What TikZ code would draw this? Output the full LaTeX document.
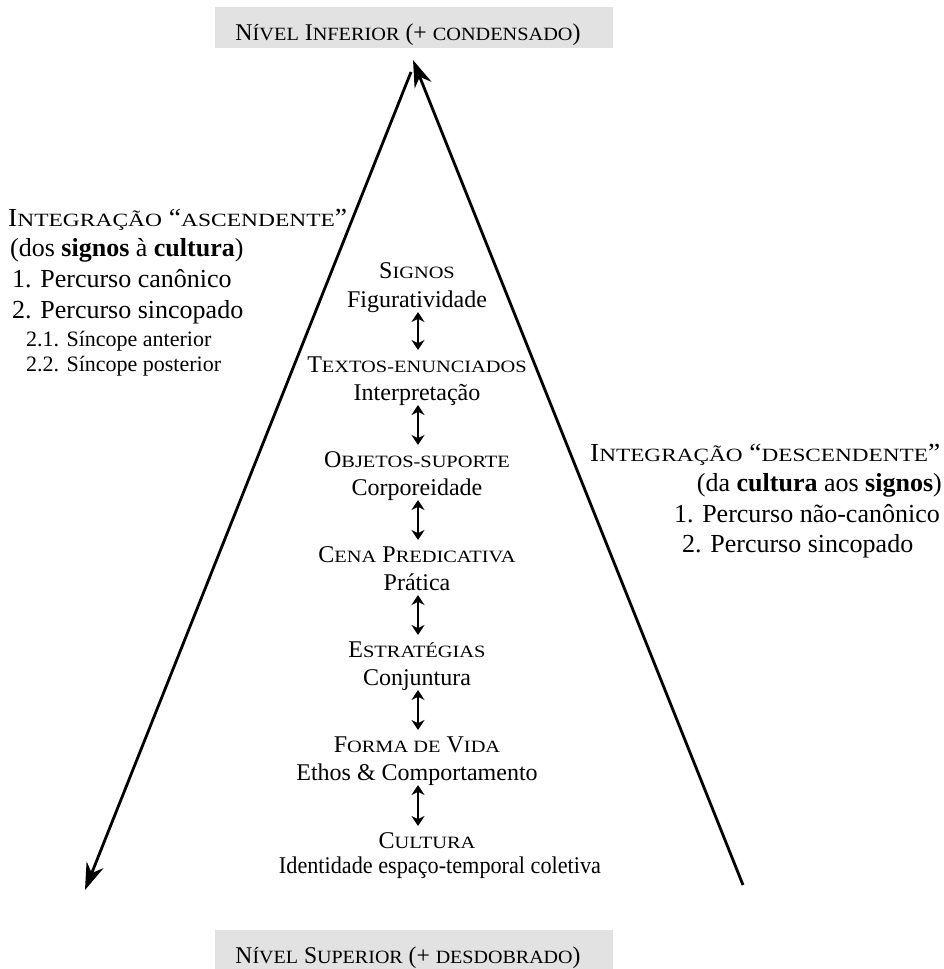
\documentclass[tikz,border=0pt]{standalone}
\usepackage{fontspec}
\usepackage{graphicx}
\setmainfont{Liberation Serif}
\usetikzlibrary{arrows.meta,calc}
\definecolor{bandgray}{HTML}{E2E2E2}

% small capitals built from scaled capitals
\newcommand\lowsc[2][0.72]{\scalebox{0.85}[#1]{#2}}
% squeeze or widen a heading to a given width
\newcommand\fitw[2]{\resizebox{#1}{\height}{#2}}

\begin{document}
\begin{tikzpicture}[x=1pt,y=-1pt,
  head/.style={anchor=base, inner sep=0pt, font=\fontsize{24}{28}\selectfont},
  desc/.style={anchor=base, inner sep=0pt, font=\fontsize{24}{28}\selectfont},
  side/.style={inner sep=0pt, font=\fontsize{26}{30}\selectfont},
  subitem/.style={inner sep=0pt, font=\fontsize{22}{26}\selectfont},
  levelarrow/.style={{Stealth[length=10pt,width=13pt]}-{Stealth[length=10pt,width=13pt]}, line width=2.4pt},
  bigarrow/.style={-{Stealth[length=27pt,width=18pt]}, line width=2.8pt},
  band/.style={fill=bandgray, minimum width=398pt, minimum height=41pt, inner sep=0pt},
  bandtext/.style={anchor=base, inner sep=0pt, font=\fontsize{24}{28}\selectfont}
]
\useasboundingbox (0,0) rectangle (944,969);

% grey level bands
\node[band] (topband) at (414,27.5) {};
\node[bandtext] (toptext) at (408,40)
  {\fitw{345pt}{N\lowsc[0.78]{ÍVEL} I\lowsc[0.78]{NFERIOR} (+ \lowsc[0.78]{CONDENSADO})}};
\node[band, minimum height=40pt] (botband) at (414,950) {};
\node[bandtext] (bottext) at (408,963)
  {\fitw{345pt}{N\lowsc[0.78]{ÍVEL} S\lowsc[0.78]{UPERIOR} (+ \lowsc[0.78]{DESDOBRADO})}};

% the two long sides of the triangle
\coordinate (Ltop) at (411,72);
\coordinate (Lend) at (85,890);
\coordinate (Rbot) at (743,885);
\coordinate (Rtip) at (413,60);
\draw[bigarrow] (Ltop) -- (Lend);
\draw[bigarrow] (Rbot) -- (Rtip);

% levels of pertinence
\coordinate (axis) at (418,0);
\node[head] (h1) at (417,278) {S\lowsc{IGNOS}};
\node[desc] (d1) at (417,307) {Figuratividade};
\node[head] (h2) at (417,372) {T\lowsc{EXTOS-ENUNCIADOS}};
\node[desc] (d2) at (417,400) {Interpretação};
\node[head] (h3) at (417,467) {O\lowsc{BJETOS-SUPORTE}};
\node[desc] (d3) at (417,495) {Corporeidade};
\node[head] (h4) at (417,562) {C\lowsc{ENA} P\lowsc{REDICATIVA}};
\node[desc] (d4) at (417,590) {Prática};
\node[head] (h5) at (417,657) {E\lowsc{STRATÉGIAS}};
\node[desc] (d5) at (417,685) {Conjuntura};
\node[head] (h6) at (417,752) {F\lowsc{ORMA DE} V\lowsc{IDA}};
\node[desc] (d6) at (417,780) {Ethos \& Comportamento};
\node[head] (h7) at (427,848) {C\lowsc{ULTURA}};
\node[desc] (d7) at (440,873) {\fitw{322pt}{Identidade espaço-temporal coletiva}};

\foreach \a/\b in {1/2,2/3,3/4,4/5,5/6,6/7}
  \draw[levelarrow] ($(d\a.base -| axis)+(0,5)$) -- ($(h\b.base -| axis)+(0,-22)$);

% ascending integration
\node[side, anchor=base west] (asc) at (8,226)
  {\fitw{339pt}{I\lowsc{NTEGRAÇÃO} “\lowsc{ASCENDENTE}”}};
\node[side, anchor=base west] (ascA) at (10,256) {(dos \textbf{signos} à \textbf{cultura})};
\node[side, anchor=base west] (asc1) at (12,287) {1. Percurso canônico};
\node[side, anchor=base west] (asc2) at (12,318) {2. Percurso sincopado};
\node[subitem, anchor=base west] (asc21) at (26,346) {2.1. Síncope anterior};
\node[subitem, anchor=base west] (asc22) at (26,371) {2.2. Síncope posterior};

% descending integration
\node[side, anchor=base west] (desc) at (590,461)
  {\fitw{350pt}{I\lowsc{NTEGRAÇÃO} “\lowsc{DESCENDENTE}”}};
\node[side, anchor=base east] (descA) at (942,491) {(da \textbf{cultura} aos \textbf{signos})};
\node[side, anchor=base east] (desc1) at (940,522) {1. Percurso não-canônico};
\node[side, anchor=base west] (desc2) at (682,552) {2. Percurso sincopado};
\end{tikzpicture}
\end{document}
